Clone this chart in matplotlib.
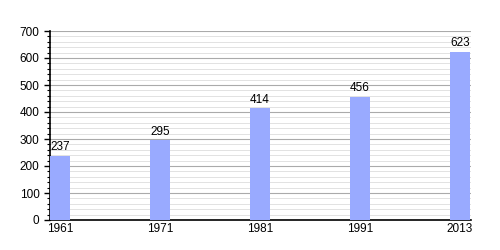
import matplotlib
matplotlib.use("Agg")
from matplotlib import pyplot as plt
from matplotlib.ticker import MultipleLocator

plt.rcParams['font.family'] = ['Liberation Sans', 'DejaVu Sans']

years = ["1961", "1971", "1981", "1991", "2013"]
population = [237, 295, 414, 456, 623]

fig = plt.figure(figsize=(5, 2.5), dpi=100)
ax = fig.add_axes([0.1, 0.12, 0.842, 0.756])

pos = list(range(len(years)))
bars = ax.bar(pos, population, width=0.2, align='edge', color='#99aaff', zorder=3)
for p, v in zip(pos, population):
    ax.text(p + 0.1, v + 10, str(v), ha='center', va='bottom', fontsize=8.5)

ax.set_xlim(0, 4.21)
ax.set_ylim(0, 700)
ax.set_xticks([p + 0.1 for p in pos])
ax.set_xticklabels(years, fontsize=8.5)
ax.yaxis.set_major_locator(MultipleLocator(100))
ax.yaxis.set_minor_locator(MultipleLocator(20))
ax.tick_params(axis='y', labelsize=8.5, length=4, width=1)
ax.tick_params(axis='y', which='minor', length=2, width=0.8)
ax.tick_params(axis='x', length=0, pad=2)
ax.grid(axis='y', which='major', color='#aaaaaa', linewidth=0.8, zorder=0)
ax.grid(axis='y', which='minor', color='#dddddd', linewidth=0.6, zorder=0)
for s in ['top', 'right']:
    ax.spines[s].set_visible(False)
ax.spines['left'].set_linewidth(1.2)
ax.spines['bottom'].set_linewidth(1.2)

fig.savefig("out.png", dpi=100)
plt.close()
